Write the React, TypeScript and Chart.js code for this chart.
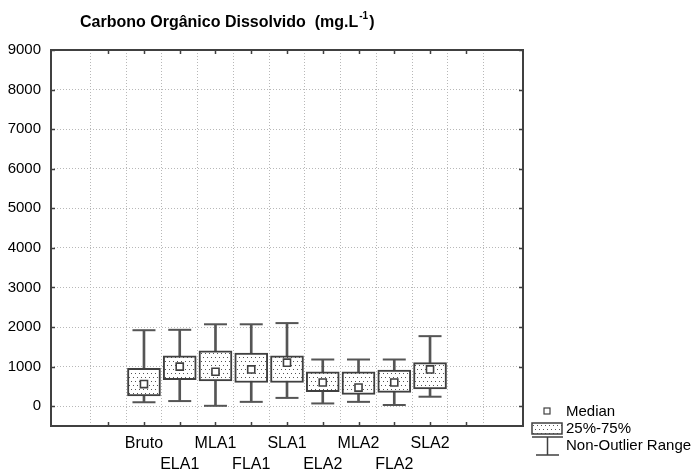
import React, { useEffect, useRef } from "react";
import { Chart, registerables } from "chart.js";

Chart.register(...registerables);

// ---- data ----
const axisCategories = ["", "Bruto", "ELA1", "MLA1", "FLA1", "SLA1", "ELA2", "MLA2", "FLA2", "SLA2", ""];
const groups = ["Bruto", "ELA1", "MLA1", "FLA1", "SLA1", "ELA2", "MLA2", "FLA2", "SLA2"];
const minValues = [100, 130, 10, 110, 210, 70, 110, 30, 240];
const q1Values = [260, 670, 640, 600, 600, 370, 300, 350, 440];
const medianValues = [560, 1000, 870, 930, 1100, 600, 470, 600, 930];
const q3Values = [960, 1270, 1400, 1340, 1270, 870, 870, 910, 1100];
const maxValues = [1920, 1930, 2070, 2070, 2100, 1180, 1180, 1180, 1770];
const yTickValues = [0, 1000, 2000, 3000, 4000, 5000, 6000, 7000, 8000, 9000];
const legendLabels = ["Median", "25%-75%", "Non-Outlier Range"];
const titleMain = "Carbono Orgânico Dissolvido  (mg.L";
const titleSup = "-1";
const titleEnd = ")";

const FONT = "Arial, 'Liberation Sans', sans-serif";
const DARK = "#404040";

function makePattern(): CanvasPattern | string {
  const c = document.createElement("canvas");
  c.width = 8;
  c.height = 8;
  const p = c.getContext("2d");
  if (!p) return "#eee";
  p.fillStyle = "#ffffff";
  p.fillRect(0, 0, 8, 8);
  p.fillStyle = "#555555";
  [[1, 1], [5, 1], [3, 5], [7, 5]].forEach(([x, y]) => p.fillRect(x, y, 1, 1));
  const pat = p.createPattern(c, "repeat");
  return pat || "#eee";
}

export default function App() {
  const ref = useRef<HTMLCanvasElement | null>(null);

  useEffect(() => {
    const canvas = ref.current;
    if (!canvas) return;
    const pattern = makePattern();
    const xOf = (i: number) => axisCategories.indexOf(groups[i]);

    const extras = {
      id: "extras",
      afterDraw(chart: any) {
        const { ctx, chartArea } = chart;
        const xs = chart.scales.x;
        const ys = chart.scales.y;
        const { left, right, top, bottom } = chartArea;
        ctx.save();
        // frame
        ctx.strokeStyle = DARK;
        ctx.lineWidth = 2;
        ctx.strokeRect(left, top, right - left, bottom - top);
        // inward ticks
        ctx.lineWidth = 1.5;
        axisCategories.forEach((_, i) => {
          const px = Math.round(xs.getPixelForValue(i)) + 0.5;
          ctx.beginPath();
          ctx.moveTo(px, bottom);
          ctx.lineTo(px, bottom - 4);
          ctx.moveTo(px, top);
          ctx.lineTo(px, top + 4);
          ctx.stroke();
        });
        yTickValues.forEach((v) => {
          const py = Math.round(ys.getPixelForValue(v)) + 0.5;
          ctx.beginPath();
          ctx.moveTo(left, py);
          ctx.lineTo(left + 4, py);
          ctx.moveTo(right, py);
          ctx.lineTo(right - 4, py);
          ctx.stroke();
        });

        // title
        ctx.fillStyle = "#000";
        ctx.textBaseline = "alphabetic";
        ctx.textAlign = "left";
        ctx.font = `bold 16px ${FONT}`;
        const tx = left + 29;
        const ty = top - 23;
        ctx.fillText(titleMain, tx, ty);
        const w1 = ctx.measureText(titleMain).width;
        ctx.font = `bold 10px ${FONT}`;
        ctx.fillText(titleSup, tx + w1 + 1, ty - 8);
        const w2 = ctx.measureText(titleSup).width;
        ctx.font = `bold 16px ${FONT}`;
        ctx.fillText(titleEnd, tx + w1 + w2 + 2, ty);

        // legend
        const lx = right + 9;
        const textX = right + 43;
        ctx.font = `15px ${FONT}`;
        ctx.textBaseline = "middle";
        // median
        const y1 = bottom - 15;
        ctx.fillStyle = "#fff";
        ctx.fillRect(lx + 12, y1 - 3, 6, 6);
        ctx.strokeStyle = DARK;
        ctx.lineWidth = 1.2;
        ctx.strokeRect(lx + 12, y1 - 3, 6, 6);
        ctx.fillStyle = "#000";
        ctx.fillText(legendLabels[0], textX, y1 + 1);
        // box
        const y2 = bottom + 2;
        ctx.fillStyle = pattern as any;
        ctx.fillRect(lx, y2 - 5, 30, 11);
        ctx.strokeStyle = DARK;
        ctx.lineWidth = 1.5;
        ctx.strokeRect(lx, y2 - 5, 30, 11);
        ctx.fillStyle = "#000";
        ctx.fillText(legendLabels[1], textX, y2 + 1);
        // whisker symbol
        const yTop = bottom + 11;
        const yBot = bottom + 29;
        ctx.strokeStyle = DARK;
        ctx.lineWidth = 1.5;
        ctx.beginPath();
        ctx.moveTo(lx, yTop);
        ctx.lineTo(lx + 31, yTop);
        ctx.moveTo(lx + 15.5, yTop);
        ctx.lineTo(lx + 15.5, yBot);
        ctx.moveTo(lx + 4, yBot);
        ctx.lineTo(lx + 27, yBot);
        ctx.stroke();
        ctx.fillStyle = "#000";
        ctx.fillText(legendLabels[2], textX, bottom + 20);
        ctx.restore();
      },
    };

    const chart = new Chart(canvas, {
      type: "bar",
      data: {
        datasets: [
          {
            type: "bar",
            label: "whisker",
            data: groups.map((_, i) => ({ x: xOf(i), y: [minValues[i], maxValues[i]] })) as any,
            backgroundColor: "#555555",
            borderWidth: 0,
            barThickness: 2,
            grouped: false,
            order: 3,
          } as any,
          {
            type: "bar",
            label: "25%-75%",
            data: groups.map((_, i) => ({ x: xOf(i), y: [q1Values[i], q3Values[i]] })) as any,
            backgroundColor: pattern as any,
            borderColor: DARK,
            borderWidth: 2,
            borderSkipped: false,
            barThickness: 33,
            grouped: false,
            order: 1,
          } as any,
          {
            type: "scatter",
            label: "caps",
            data: groups
              .map((_, i) => ({ x: xOf(i), y: maxValues[i] }))
              .concat(groups.map((_, i) => ({ x: xOf(i), y: minValues[i] }))),
            pointStyle: "line",
            pointRadius: 11.5,
            pointHoverRadius: 11.5,
            borderColor: "#555555",
            pointBorderWidth: 2,
            order: 2,
          } as any,
          {
            type: "scatter",
            label: "Median",
            data: groups.map((_, i) => ({ x: xOf(i), y: medianValues[i] })),
            pointStyle: "rect",
            pointRadius: 5,
            backgroundColor: "#ffffff",
            borderColor: DARK,
            pointBorderWidth: 1.6,
            order: 0,
          } as any,
        ],
      },
      options: {
        animation: false,
        responsive: false,
        devicePixelRatio: 1,
        events: [],
        layout: { padding: { left: 0, right: 171, top: 50, bottom: 0 } },
        plugins: { legend: { display: false }, tooltip: { enabled: false }, title: { display: false } },
        scales: {
          x: {
            type: "linear",
            min: -1,
            max: 11,
            afterBuildTicks: (s: any) => {
              s.ticks = axisCategories.map((_, i) => ({ value: i }));
            },
            afterFit: (s: any) => {
              s.height = 47;
            },
            ticks: {
              autoSkip: false,
              maxRotation: 0,
              padding: 7,
              color: "#000",
              font: { family: FONT, size: 16, lineHeight: 1.3 },
              callback: (v: any) => {
                const i = Math.round(Number(v));
                const lbl = axisCategories[i];
                if (!lbl) return "";
                return i % 2 === 1 ? lbl : ["", lbl];
              },
            },
            grid: { color: "#b8b8b8", lineWidth: 1, drawTicks: false },
            border: { display: false, dash: [1, 2] },
          },
          y: {
            type: "linear",
            min: -500,
            max: 9000,
            afterBuildTicks: (s: any) => {
              s.ticks = yTickValues.map((v) => ({ value: v }));
            },
            afterFit: (s: any) => {
              s.width = 51;
            },
            ticks: {
              padding: 10,
              color: "#000",
              font: { family: FONT, size: 15 },
              callback: (v: any) => String(v),
            },
            grid: { color: "#b8b8b8", lineWidth: 1, drawTicks: false },
            border: { display: false, dash: [1, 2] },
          },
        },
      },
      plugins: [extras],
    } as any);

    return () => chart.destroy();
  }, []);

  return (
    <div style={{ position: "fixed", left: 0, top: 0, width: 694, height: 473, background: "#fff" }}>
      <canvas ref={ref} width={694} height={473} style={{ display: "block" }} />
    </div>
  );
}
